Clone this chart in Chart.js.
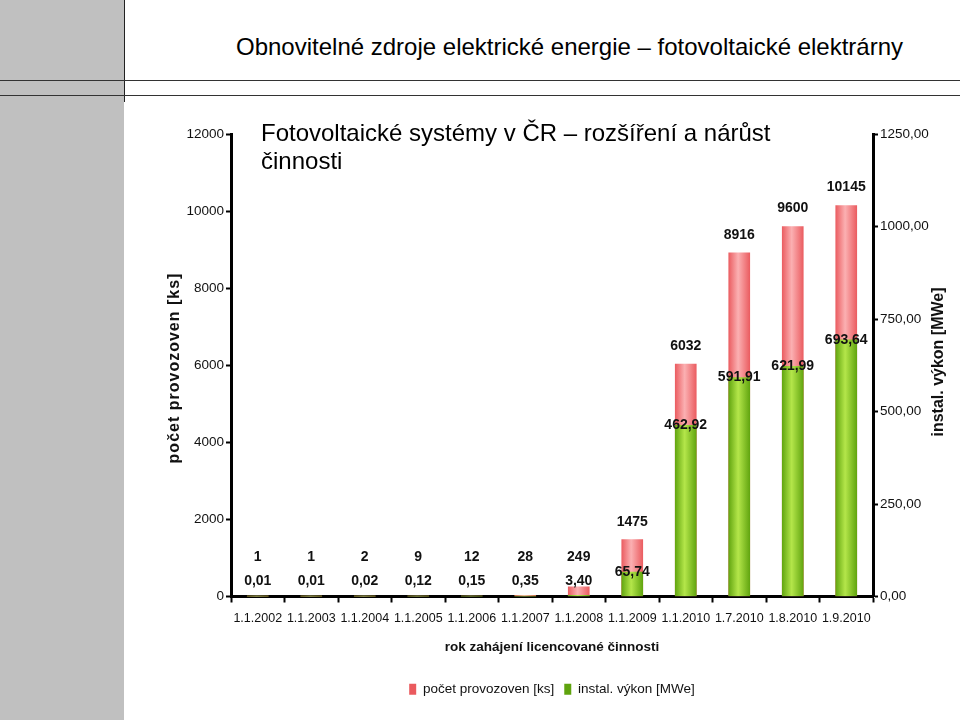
<!DOCTYPE html>
<html>
<head>
<meta charset="utf-8">
<script src="https://cdn.jsdelivr.net/npm/chart.js@4.4.1/dist/chart.umd.min.js"></script>
<style>
html,body{margin:0;padding:0;background:#fff;}
body{width:960px;height:720px;position:relative;overflow:hidden;font-family:"Liberation Sans",Arial,sans-serif;}
#panel{position:absolute;left:0;top:0;width:124px;height:720px;background:#c0c0c0;}
#vline{position:absolute;left:124px;top:0;width:1px;height:102px;background:#222;}
.hline{position:absolute;left:0;width:960px;height:1px;background:#333;}
#title{position:absolute;left:236px;top:33px;font-size:24px;line-height:28px;color:#000;white-space:nowrap;}
#subtitle{position:absolute;left:261px;top:119px;font-size:24px;line-height:28px;color:#000;z-index:2;white-space:nowrap;}
#wrap{position:absolute;left:0;top:0;width:960px;height:720px;z-index:1;}
</style>
</head>
<body>
<div id="panel"></div>
<div id="vline"></div>
<div class="hline" style="top:80px"></div>
<div class="hline" style="top:95px"></div>
<div id="title">Obnovitelné zdroje elektrické energie – fotovoltaické elektrárny</div>
<div id="subtitle">Fotovoltaické systémy v ČR – rozšíření a nárůst<br>činnosti</div>
<div id="wrap"><canvas id="c" width="960" height="720"></canvas></div>
<script>
const categories = ['1.1.2002','1.1.2003','1.1.2004','1.1.2005','1.1.2006','1.1.2007','1.1.2008','1.1.2009','1.1.2010','1.7.2010','1.8.2010','1.9.2010'];
const countValues = [1, 1, 2, 9, 12, 28, 249, 1475, 6032, 8916, 9600, 10145];
const powerValues = [0.01, 0.01, 0.02, 0.12, 0.15, 0.35, 3.40, 65.74, 462.92, 591.91, 621.99, 693.64];
const countTicks = [0, 2000, 4000, 6000, 8000, 10000, 12000];
const powerTicks = [0, 250, 500, 750, 1000, 1250];
const seriesNames = ['počet provozoven [ks]', 'instal. výkon [MWe]'];
const axisTitles = ['počet provozoven [ks]', 'instal. výkon [MWe]', 'rok zahájení licencované činnosti'];

const FONT = '"Liberation Sans", Arial, sans-serif';
function fmt2(v){ return v.toFixed(2).replace('.', ','); }

function barGradient(ctx, edge, mid, solid){
  if (ctx.type !== 'data') return solid;
  const chart = ctx.chart;
  const xs = chart.scales.x;
  if (!xs) return solid;
  const cx = xs.getPixelForValue(ctx.dataIndex);
  const g = chart.ctx.createLinearGradient(cx - 11, 0, cx + 11, 0);
  g.addColorStop(0, edge);
  g.addColorStop(0.45, mid);
  g.addColorStop(1, edge);
  return g;
}

const labelPlugin = {
  id: 'valueLabels',
  afterDatasetsDraw(chart){
    const {ctx, scales} = chart;
    const x = scales.x, y = scales.y, y1 = scales.y1;
    ctx.save();
    ctx.font = 'bold 14px ' + FONT;
    ctx.textAlign = 'center';
    ctx.textBaseline = 'middle';
    ctx.fillStyle = '#111';
    categories.forEach((c, i) => {
      const px = x.getPixelForValue(i);
      const gTop = y1.getPixelForValue(powerValues[i]);
      const gy = Math.min(gTop, y.bottom - 15);
      const rTop = y.getPixelForValue(countValues[i]);
      const ry = Math.min(rTop - 18, gy - 24);
      ctx.fillText(fmt2(powerValues[i]), px, gy);
      ctx.fillText(String(countValues[i]), px, ry);
    });
    // axis titles
    ctx.fillStyle = '#111';
    ctx.font = 'bold 16px ' + FONT;
    ctx.save();
    ctx.translate(175, 368);
    ctx.rotate(-Math.PI / 2);
    ctx.letterSpacing = '1px';
    ctx.fillText(axisTitles[0], 0, 0);
    ctx.restore();
    ctx.save();
    ctx.translate(939, 362);
    ctx.rotate(-Math.PI / 2);
    ctx.fillText(axisTitles[1], 0, 0);
    ctx.restore();
    ctx.font = 'bold 13.5px ' + FONT;
    ctx.fillText(axisTitles[2], (x.left + x.right) / 2, 647);
    ctx.restore();
  }
};

const tickFont = {family: FONT, size: 13.5};
new Chart(document.getElementById('c'), {
  type: 'bar',
  data: {
    labels: categories,
    datasets: [
      {
        label: seriesNames[0],
        data: countValues,
        yAxisID: 'y',
        order: 2,
        grouped: false,
        barThickness: 21,
        backgroundColor: (ctx) => barGradient(ctx, '#ea5a5e', '#fbb0b2', '#ef7378'),
        borderWidth: 0
      },
      {
        label: seriesNames[1],
        data: powerValues,
        yAxisID: 'y1',
        order: 1,
        grouped: false,
        barThickness: 21,
        backgroundColor: (ctx) => barGradient(ctx, '#5fa30e', '#b4e64a', '#7fc31f'),
        borderWidth: 0
      }
    ]
  },
  options: {
    responsive: false,
    animation: false,
    layout: {padding: {top: 134, bottom: 14, left: 0, right: 0}},
    plugins: {
      tooltip: {enabled: false},
      legend: {
        position: 'bottom',
        fullSize: false,
        labels: {
          boxWidth: 7,
          boxHeight: 11,
          padding: 10,
          color: '#111',
          font: {family: FONT, size: 13.5},
          sort: (a, b) => a.datasetIndex - b.datasetIndex
        }
      }
    },
    scales: {
      x: {
        offset: true,
        afterFit: (s) => { s.height = 76; },
        grid: {display: true, offset: true, drawOnChartArea: false, drawTicks: true, tickLength: 6, tickWidth: 2, tickColor: '#000'},
        border: {display: true, color: '#000', width: 3},
        ticks: {color: '#111', font: {family: FONT, size: 12.5}, padding: 9, maxRotation: 0, autoSkip: false}
      },
      y: {
        position: 'left',
        min: 0, max: 12000,
        afterFit: (s) => { s.width = 231; },
        afterBuildTicks: (s) => { s.ticks = countTicks.map(v => ({value: v})); },
        grid: {display: true, drawOnChartArea: false, drawTicks: true, tickLength: 5, tickWidth: 2, tickColor: '#000'},
        border: {display: true, color: '#000', width: 3},
        ticks: {color: '#111', font: tickFont, padding: 2, callback: (v) => String(v)}
      },
      y1: {
        position: 'right',
        min: 0, max: 1250,
        afterFit: (s) => { s.width = 87; },
        afterBuildTicks: (s) => { s.ticks = powerTicks.map(v => ({value: v})); },
        grid: {display: true, drawOnChartArea: false, drawTicks: true, tickLength: 5, tickWidth: 2, tickColor: '#000'},
        border: {display: true, color: '#000', width: 3},
        ticks: {color: '#111', font: tickFont, padding: 2, callback: (v) => fmt2(v)}
      }
    }
  },
  plugins: [labelPlugin]
});
</script>
</body>
</html>
